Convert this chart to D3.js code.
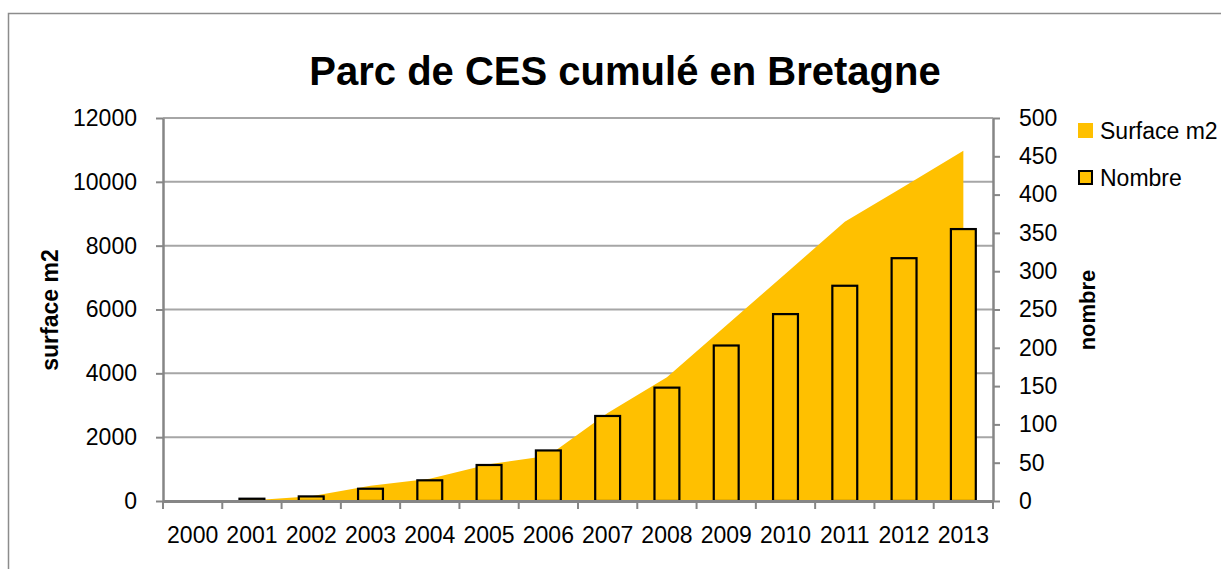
<!DOCTYPE html>
<html>
<head>
<meta charset="utf-8">
<script src="https://cdn.jsdelivr.net/npm/d3@7"></script>
<style>
  html, body { margin: 0; padding: 0; background: #fff; }
  svg { display: block; font-family: "Liberation Sans", Arial, sans-serif; }
</style>
</head>
<body>
<svg id="chart" width="1221" height="569"></svg>
<script>
// ---- data ----
const years = ["2000","2001","2002","2003","2004","2005","2006","2007","2008","2009","2010","2011","2012","2013"];
const surface = [0, 20, 150, 480, 700, 1150, 1415, 2760, 3880, 5500, 7120, 8750, 9850, 10970];
const nombre = [0, 3, 6, 16, 27, 47, 66, 111, 148, 203, 244, 281, 317, 355];
const leftTicks = [0, 2000, 4000, 6000, 8000, 10000, 12000];
const rightTicks = [0, 50, 100, 150, 200, 250, 300, 350, 400, 450, 500];
const title = "Parc de CES cumulé en Bretagne";
const leftTitle = "surface m2";
const rightTitle = "nombre";
const seriesNames = ["Surface m2", "Nombre"];

// ---- layout ----
const W = 1221, H = 569;
const plot = { left: 163, right: 993, top: 118, bottom: 501 };
const gold = "#FFC000";
const axisGray = "#868686";
const gridGray = "#a6a6a6";

const svg = d3.select("#chart");

// chart border
svg.append("rect")
  .attr("x", 8.5).attr("y", 13.5)
  .attr("width", W + 20).attr("height", H + 20)
  .attr("fill", "none").attr("stroke", "#8c8c8c").attr("stroke-width", 1.5);

const x = d3.scaleBand().domain(years).range([plot.left, plot.right]).padding(0);
const yL = d3.scaleLinear().domain([0, 12000]).range([plot.bottom, plot.top]);
const yR = d3.scaleLinear().domain([0, 500]).range([plot.bottom, plot.top]);
const cx = d => x(d) + x.bandwidth() / 2;

// gridlines
svg.append("g").selectAll("line")
  .data(leftTicks.filter(t => t > 0))
  .join("line")
  .attr("x1", plot.left).attr("x2", plot.right)
  .attr("y1", d => yL(d)).attr("y2", d => yL(d))
  .attr("stroke", gridGray).attr("stroke-width", 2);

// area (surface)
const area = d3.area()
  .x((d, i) => cx(years[i]))
  .y0(yL(0))
  .y1(d => yL(d));
svg.append("path")
  .datum(surface)
  .attr("d", area)
  .attr("fill", gold);

// bars (nombre)
const bw = x.bandwidth() * 0.42;
svg.append("g").selectAll("rect")
  .data(nombre.map((v, i) => ({ v, y: years[i] })))
  .join("rect")
  .filter(d => d.v > 0)
  .attr("x", d => cx(d.y) - bw / 2)
  .attr("width", bw)
  .attr("y", d => yR(d.v))
  .attr("height", d => yR(0) - yR(d.v))
  .attr("fill", gold)
  .attr("stroke", "#000")
  .attr("stroke-width", 2.2);

// left axis
const gL = svg.append("g")
  .attr("transform", `translate(${plot.left},0)`)
  .call(d3.axisLeft(yL).tickValues(leftTicks).tickSize(7).tickSizeOuter(0).tickPadding(19).tickFormat(d3.format("d")));
// right axis
const gR = svg.append("g")
  .attr("transform", `translate(${plot.right},0)`)
  .call(d3.axisRight(yR).tickValues(rightTicks).tickSize(7).tickSizeOuter(0).tickPadding(19).tickFormat(d3.format("d")));
// bottom axis (labels at centers)
const gB = svg.append("g")
  .attr("transform", `translate(0,${plot.bottom})`)
  .call(d3.axisBottom(x).tickSize(0).tickSizeOuter(0).tickPadding(26));
// bottom tick marks at category boundaries
const bounds = years.map(d => x(d)).concat([x(years[years.length - 1]) + x.bandwidth()]);
gB.append("g").selectAll("line")
  .data(bounds)
  .join("line")
  .attr("x1", d => d).attr("x2", d => d)
  .attr("y1", 0).attr("y2", 8)
  .attr("stroke", axisGray).attr("stroke-width", 2);

[gL, gR, gB].forEach(g => {
  g.select(".domain").attr("stroke", axisGray).attr("stroke-width", 2.5);
  g.selectAll(".tick line").attr("stroke", axisGray).attr("stroke-width", 2);
  g.selectAll(".tick text").attr("fill", "#000").style("font-size", "23px")
    .style("font-family", "'Liberation Sans', Arial, sans-serif");
});
gB.select(".domain").attr("stroke-width", 3);

// title
svg.append("text")
  .attr("x", 625).attr("y", 85)
  .attr("text-anchor", "middle")
  .style("font-size", "40px").style("font-weight", "bold")
  .text(title);

// axis titles
svg.append("text")
  .attr("transform", `translate(58,310) rotate(-90)`)
  .attr("text-anchor", "middle")
  .style("font-size", "23px").style("font-weight", "bold")
  .text(leftTitle);
svg.append("text")
  .attr("transform", `translate(1095,310) rotate(-90)`)
  .attr("text-anchor", "middle")
  .style("font-size", "22px").style("font-weight", "bold")
  .text(rightTitle);

// legend
const lg = svg.append("g");
lg.append("rect").attr("x", 1078).attr("y", 123).attr("width", 15).attr("height", 15).attr("fill", gold);
lg.append("text").attr("x", 1100).attr("y", 139).style("font-size", "23px").text(seriesNames[0]);
lg.append("rect").attr("x", 1079).attr("y", 171).attr("width", 13).attr("height", 13)
  .attr("fill", gold).attr("stroke", "#000").attr("stroke-width", 2);
lg.append("text").attr("x", 1100).attr("y", 186).style("font-size", "23px").text(seriesNames[1]);
</script>
</body>
</html>
